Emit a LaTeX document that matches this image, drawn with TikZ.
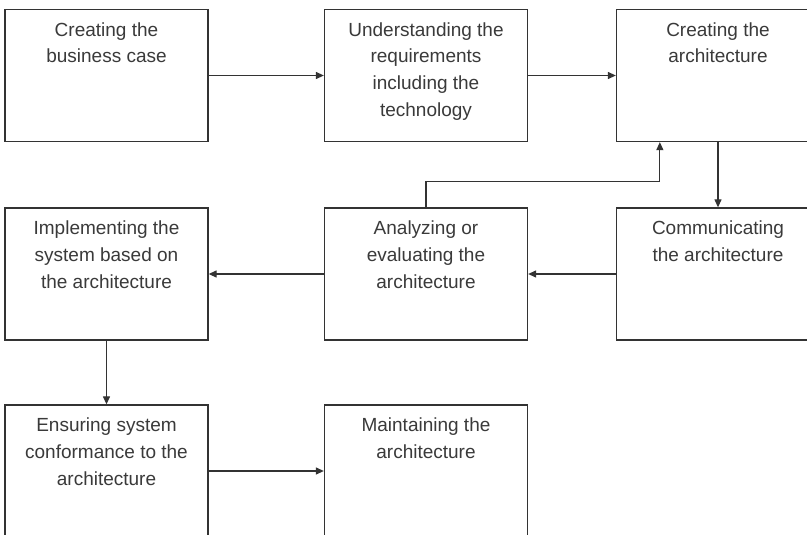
\documentclass[tikz,border=0pt]{standalone}
\usepackage{fontspec}
\setmainfont{Liberation Sans}
\usetikzlibrary{arrows.meta}
\definecolor{linegray}{HTML}{333333}
\definecolor{textgray}{HTML}{3A3A3A}
\newcommand{\stagetext}[1]{\parbox[c][132pt][t]{203pt}{\centering\rule{0pt}{26.5pt}#1}}
\begin{document}
\begin{tikzpicture}[x=1pt,y=-1pt,
stage/.style={draw=linegray,line width=1.3pt,inner sep=0pt,fill=white,text=textgray,
  font=\fontsize{19}{27}\selectfont},
flow/.style={linegray,line width=1.2pt,-{Triangle[length=8pt,width=7pt]}}]
\useasboundingbox [fill=white] (0,0) rectangle (807,535);

\node (c1) at (106.5,75.5) [stage] {\stagetext{Creating the\\ business case}};
\node (c2) at (426,75.5) [stage] {\stagetext{Understanding the\\ requirements\\ including the\\ technology}};
\node (c3) at (718,75.5) [stage] {\stagetext{Creating the\\ architecture}};

\node (c4) at (106.5,274) [stage] {\stagetext{Implementing the\\ system based on\\ the architecture}};
\node (c5) at (426,274) [stage] {\stagetext{Analyzing or\\ evaluating the\\ architecture}};
\node (c6) at (718,274) [stage] {\stagetext{Communicating\\ the architecture}};

\node (c7) at (106.5,471) [stage] {\stagetext{Ensuring system\\ conformance to the\\ architecture}};
\node (c8) at (426,471) [stage] {\stagetext{Maintaining the\\ architecture}};

\coordinate (c3in) at ([xshift=44pt]c3.south west);

\draw [flow] (c1) -- (c2);
\draw [flow] (c2) -- (c3);
\draw [flow] (c3) -- (c6);
\draw [flow] (c5.north) -- ++(0,-26) -| (c3in);
\draw [flow] (c6) -- (c5);
\draw [flow] (c5) -- (c4);
\draw [flow] (c4) -- (c7);
\draw [flow] (c7) -- (c8);

\end{tikzpicture}
\end{document}
